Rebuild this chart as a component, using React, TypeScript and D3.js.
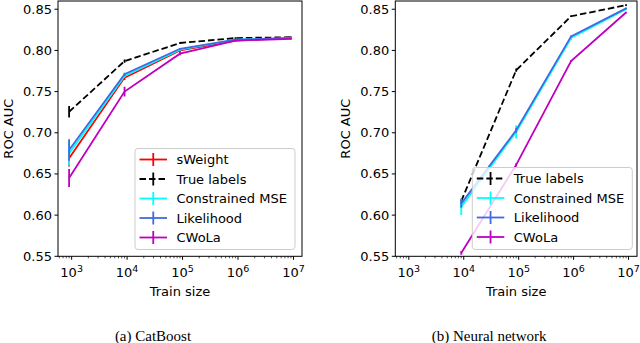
import React from "react";
import * as d3 from "d3";

const trainSizes = [900, 9000, 90000, 900000, 9000000];

// Panel (a) CatBoost
const catSWeight = [0.669, 0.767, 0.8, 0.812, 0.815];
const catSWeightErr = [0.01, 0.003, 0.002, 0.001, 0.001];
const catTrue = [0.7255, 0.787, 0.809, 0.815, 0.816];
const catTrueErr = [0.007, 0.002, 0.001, 0.001, 0.001];
const catCMSE = [0.675, 0.769, 0.801, 0.813, 0.815];
const catCMSEErr = [0.015, 0.002, 0.001, 0.001, 0.001];
const catLik = [0.679, 0.771, 0.802, 0.813, 0.815];
const catLikErr = [0.013, 0.002, 0.001, 0.001, 0.001];
const catCWoLa = [0.645, 0.75, 0.796, 0.812, 0.814];
const catCWoLaErr = [0.011, 0.006, 0.002, 0.001, 0.001];

// Panel (b) Neural network
const nnTrue = [0.617, 0.776, 0.8415, 0.855];
const nnTrueErr = [0.003, 0.002, 0.001, 0.001];
const nnCMSE = [0.61, 0.701, 0.815, 0.85];
const nnCMSEErr = [0.01, 0.008, 0.002, 0.001];
const nnLik = [0.614, 0.703, 0.817, 0.851];
const nnLikErr = [0.005, 0.003, 0.001, 0.001];
const nnCWoLa = [0.554, 0.661, 0.787, 0.846];
const nnCWoLaErr = [0.002, 0.002, 0.001, 0.001];
const nnSizes = [9000, 90000, 900000, 9000000];

const yTicks = [0.55, 0.6, 0.65, 0.7, 0.75, 0.8, 0.85];
const xTickExps = [3, 4, 5, 6, 7];

const FONT = "DejaVu Sans, sans-serif";

type Series = {
  name: string;
  color: string;
  dashed?: boolean;
  xs: number[];
  ys: number[];
  errs: number[];
};

type PanelProps = {
  x0: number;
  x1: number;
  series: Series[];
  caption: string;
  legend: { x: number; y: number; w: number; h: number };
};

function Panel({ x0, x1, series, caption, legend }: PanelProps) {
  const yTop = 1;
  const yBot = 256.3;
  const x = d3.scaleLog().domain([Math.pow(10, 2.754), Math.pow(10, 7.154)]).range([x0, x1]);
  const y = d3.scaleLinear().domain([0.55, 0.86]).range([yBot, yTop]);
  const line = d3
    .line<[number, number]>()
    .x((d) => x(d[0]))
    .y((d) => y(d[1]));

  const minor: number[] = [];
  for (let e = 2; e <= 7; e++) {
    for (let m = 2; m <= 9; m++) {
      const v = m * Math.pow(10, e);
      const px = x(v);
      if (px >= x0 && px <= x1) minor.push(v);
    }
  }

  const cx = (x0 + x1) / 2;
  const cy = (yTop + yBot) / 2;
  const rowH = 19.5;

  return (
    <g>
      <defs>
        <clipPath id={`clip${x0}`}>
          <rect x={x0} y={yTop} width={x1 - x0} height={yBot - yTop} />
        </clipPath>
      </defs>
      <g clipPath={`url(#clip${x0})`}>
        {series.map((s) => (
          <g key={s.name}>
            <path
              d={line(s.xs.map((v, i) => [v, s.ys[i]] as [number, number])) || ""}
              fill="none"
              stroke={s.color}
              strokeWidth={1.8}
              strokeDasharray={s.dashed ? "6.5,3" : undefined}
            />
            {s.xs.map((v, i) => (
              <line
                key={i}
                x1={x(v)}
                x2={x(v)}
                y1={y(s.ys[i] - s.errs[i])}
                y2={y(s.ys[i] + s.errs[i])}
                stroke={s.color}
                strokeWidth={1.8}
              />
            ))}
          </g>
        ))}
      </g>
      {/* spines */}
      <rect x={x0} y={yTop} width={x1 - x0} height={yBot - yTop} fill="none" stroke="#000" strokeWidth={1} />
      {/* y ticks */}
      {yTicks.map((t) => (
        <g key={t}>
          <line x1={x0 - 3.5} x2={x0} y1={y(t)} y2={y(t)} stroke="#000" strokeWidth={1} />
          <text x={x0 - 6} y={y(t)} dy="0.35em" textAnchor="end" fontFamily={FONT} fontSize={13}>
            {d3.format(".2f")(t)}
          </text>
        </g>
      ))}
      {/* x minor ticks */}
      {minor.map((v) => (
        <line key={v} x1={x(v)} x2={x(v)} y1={yBot} y2={yBot + 2} stroke="#000" strokeWidth={0.7} />
      ))}
      {xTickExps.map((e) => {
        const px = x(Math.pow(10, e));
        return (
          <g key={e}>
            <line x1={px} x2={px} y1={yBot} y2={yBot + 3.5} stroke="#000" strokeWidth={1} />
            <text x={px} y={277} textAnchor="middle" fontFamily={FONT} fontSize={13}>
              10
              <tspan dy={-5} fontSize={9.5}>
                {e}
              </tspan>
            </text>
          </g>
        );
      })}
      <text x={cx} y={296} textAnchor="middle" fontFamily={FONT} fontSize={13}>
        Train size
      </text>
      <text
        transform={`translate(${x0 - 45.5},${cy}) rotate(-90)`}
        textAnchor="middle"
        fontFamily={FONT}
        fontSize={13}
      >
        ROC AUC
      </text>
      {/* legend */}
      <g>
        <rect
          x={legend.x}
          y={legend.y}
          width={legend.w}
          height={legend.h}
          rx={3}
          fill="#fff"
          fillOpacity={0.8}
          stroke="#cccccc"
          strokeWidth={1}
        />
        {series.map((s, i) => {
          const ry = legend.y + 11 + i * rowH;
          const hx0 = legend.x + 4.5;
          const hx1 = legend.x + 32;
          const hm = (hx0 + hx1) / 2;
          return (
            <g key={s.name}>
              <line
                x1={hx0}
                x2={hx1}
                y1={ry}
                y2={ry}
                stroke={s.color}
                strokeWidth={1.8}
                strokeDasharray={s.dashed ? "6.5,3" : undefined}
              />
              <line x1={hm} x2={hm} y1={ry - 6.5} y2={ry + 6.5} stroke={s.color} strokeWidth={1.8} />
              <text x={legend.x + 41.5} y={ry} dy="0.35em" fontFamily={FONT} fontSize={13}>
                {s.name}
              </text>
            </g>
          );
        })}
      </g>
      <text x={cx - 27} y={341} textAnchor="middle" fontFamily="Liberation Serif, serif" fontSize={15}>
        {caption}
      </text>
    </g>
  );
}

export default function App() {
  const left: Series[] = [
    { name: "sWeight", color: "#ff0000", xs: trainSizes, ys: catSWeight, errs: catSWeightErr },
    { name: "True labels", color: "#000000", dashed: true, xs: trainSizes, ys: catTrue, errs: catTrueErr },
    { name: "Constrained MSE", color: "#00ffff", xs: trainSizes, ys: catCMSE, errs: catCMSEErr },
    { name: "Likelihood", color: "#4169e1", xs: trainSizes, ys: catLik, errs: catLikErr },
    { name: "CWoLa", color: "#bf00bf", xs: trainSizes, ys: catCWoLa, errs: catCWoLaErr },
  ];
  const right: Series[] = [
    { name: "True labels", color: "#000000", dashed: true, xs: nnSizes, ys: nnTrue, errs: nnTrueErr },
    { name: "Constrained MSE", color: "#00ffff", xs: nnSizes, ys: nnCMSE, errs: nnCMSEErr },
    { name: "Likelihood", color: "#4169e1", xs: nnSizes, ys: nnLik, errs: nnLikErr },
    { name: "CWoLa", color: "#bf00bf", xs: nnSizes, ys: nnCWoLa, errs: nnCWoLaErr },
  ];
  return (
    <svg
      width={640}
      height={343}
      style={{ position: "absolute", left: 0, top: 0, background: "#fff" }}
    >
      <rect width={640} height={343} fill="#fff" />
      <Panel
        x0={58}
        x1={302}
        series={left}
        caption="(a) CatBoost"
        legend={{ x: 135, y: 148.5, w: 160, h: 101 }}
      />
      <Panel
        x0={395.3}
        x1={637}
        series={right}
        caption="(b) Neural network"
        legend={{ x: 472.3, y: 167.5, w: 160, h: 82 }}
      />
    </svg>
  );
}
